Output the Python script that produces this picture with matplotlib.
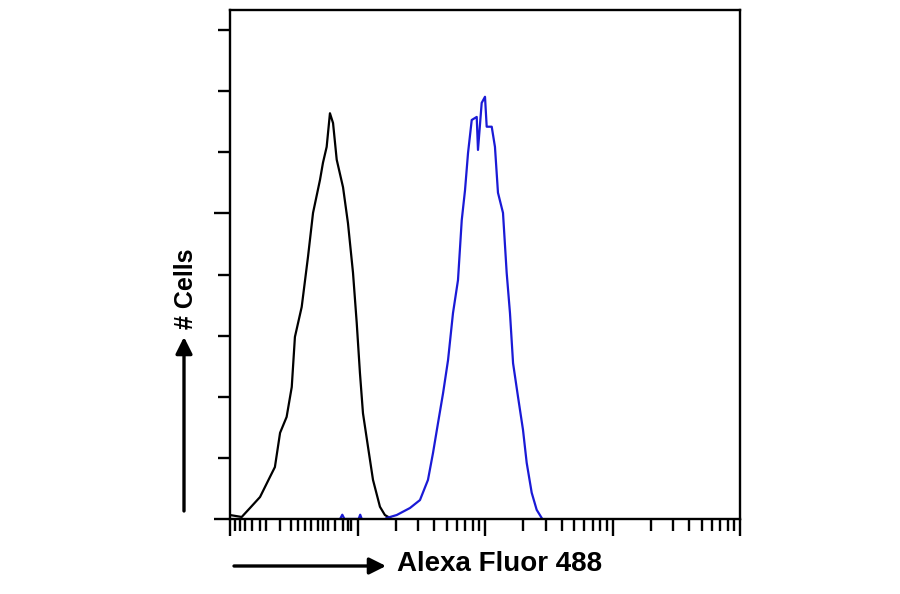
import matplotlib
matplotlib.use("Agg")
import matplotlib.pyplot as plt
from matplotlib.ticker import FixedLocator, NullFormatter

# Isotype control (black) histogram: intensity (log scale) vs relative cell count
ctrl_x = [1.0, 1.235, 1.435, 1.72, 2.06, 2.25, 2.47, 2.78, 3.05, 3.23, 3.65, 4.09,
          4.48, 5.08, 5.36, 5.73, 6.08, 6.43, 6.87, 7.7, 8.42, 9.22, 9.86, 10.45,
          11.04, 12.09, 13.23, 15.0, 16.4, 18.0]
ctrl_y = [0.065, 0.033, 0.18, 0.36, 0.69, 0.85, 1.41, 1.67, 2.16, 2.98, 3.47, 4.29,
          5.01, 5.55, 5.83, 6.09, 6.64, 6.48, 5.88, 5.43, 4.84, 4.03, 3.21, 2.39,
          1.73, 1.18, 0.64, 0.2, 0.065, 0.016]

# Antibody stained (blue) histogram
stain_x = [16.9, 20.3, 25.8, 30.9, 35.7, 39.1, 42.8, 46.9, 51.3, 56.1, 61.4, 65.7,
           69.7, 73.6, 78.7, 86.1, 88.1, 94.2, 100.0, 103.1, 112.9, 119.7, 126.4,
           138.4, 147.9, 157.0, 166.0, 181.5, 198.6, 212.3, 232.4, 254.3, 278.5]
stain_y = [0.016, 0.065, 0.18, 0.31, 0.64, 1.08, 1.57, 2.06, 2.6, 3.37, 3.91, 4.89,
           5.38, 5.99, 6.53, 6.58, 6.04, 6.81, 6.91, 6.42, 6.42, 6.09, 5.34,
           5.01, 4.03, 3.37, 2.55, 2.0, 1.46, 0.92, 0.43, 0.15, 0.016]

# a few stray stained events near the baseline
stray_x = [7.3, 7.6, 7.9, 10.2, 10.5, 10.8]
stray_y = [0.0, 0.07, 0.0, 0.0, 0.07, 0.0]

# axis tick values
x_major = [1, 10, 100, 1000, 10000]
x_minor_first = [1.094, 1.197, 1.31, 1.485, 1.715, 1.91, 2.46, 2.99, 3.39, 3.85,
                 4.29, 4.87, 5.32, 5.83, 6.61, 7.63, 8.35, 8.83]
x_minor_rest = [m * d for d in (10, 100, 1000) for m in range(2, 10)]
y_major = [0, 5]
y_minor = [1, 2, 3, 4, 6, 7, 8]

fig = plt.figure(figsize=(9, 5.94), dpi=100)
ax = fig.add_axes([230 / 900, 1 - 519 / 594, 510 / 900, 509 / 594])

ax.plot(ctrl_x, ctrl_y, color="black", lw=1.6)
ax.plot(stain_x, stain_y, color="#1a1ad6", lw=1.6)
ax.plot(stray_x, stray_y, color="#1a1ad6", lw=1.6)

ax.set_xscale("log")
ax.set_xlim(1, 10000)
ax.set_ylim(0, 8.33)

ax.xaxis.set_major_locator(FixedLocator(x_major))
ax.xaxis.set_minor_locator(FixedLocator(x_minor_first + x_minor_rest))
ax.yaxis.set_major_locator(FixedLocator(y_major))
ax.yaxis.set_minor_locator(FixedLocator(y_minor))
for axis in (ax.xaxis, ax.yaxis):
    axis.set_major_formatter(NullFormatter())
    axis.set_minor_formatter(NullFormatter())

ax.tick_params(axis="x", which="major", direction="out", length=12.5, width=1.7)
ax.tick_params(axis="x", which="minor", direction="out", length=8.5, width=1.7)
ax.tick_params(axis="y", which="major", direction="out", length=11.5, width=1.7)
ax.tick_params(axis="y", which="minor", direction="out", length=8.5, width=1.7)
for sp in ax.spines.values():
    sp.set_linewidth(1.7)

# axis arrows and labels (figure pixel coordinates)
def px(x, y):
    return (x / 900, 1 - y / 594)

fig.patches.append(matplotlib.patches.FancyArrowPatch(
    px(234, 566), px(386, 566), transform=fig.transFigure,
    arrowstyle="-|>,head_length=10,head_width=5", lw=2.4, color="black",
    mutation_scale=1, shrinkA=0, shrinkB=0))
fig.patches.append(matplotlib.patches.FancyArrowPatch(
    px(184, 511), px(184, 337), transform=fig.transFigure,
    arrowstyle="-|>,head_length=10,head_width=5", lw=2.4, color="black",
    mutation_scale=1, shrinkA=0, shrinkB=0))

fig.text(*px(397, 564), "Alexa Fluor 488", fontsize=20, fontweight="bold",
         family="Liberation Sans", ha="left", va="center")
fig.text(*px(186, 289), "# Cells", fontsize=18, fontweight="bold",
         family="Liberation Sans", rotation=90, ha="center", va="center")

fig.savefig("out.png", dpi=100)
